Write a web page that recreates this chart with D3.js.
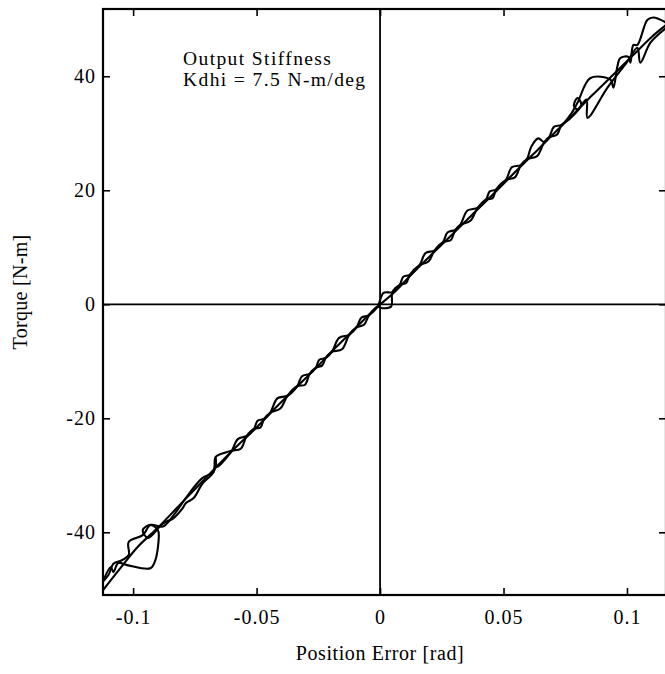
<!DOCTYPE html>
<html>
<head>
<meta charset="utf-8">
<script src="https://cdn.jsdelivr.net/npm/d3@7"></script>
<style>
  html, body { margin: 0; padding: 0; background: #fff; }
  svg { display: block; }
</style>
</head>
<body>
<svg id="chart" width="665" height="674"></svg>
<script>
// ---------- data ----------
const xTicks = [-0.1, -0.05, 0, 0.05, 0.1];
const xTickLabels = ["-0.1", "-0.05", "0", "0.05", "0.1"];
const yTicks = [40, 20, 0, -20, -40];
const yTickLabels = ["40", "20", "0", "-20", "-40"];

const xLabel = "Position Error [rad]";
const yLabel = "Torque [N-m]";
const noteLines = ["Output Stiffness", "Kdhi = 7.5 N-m/deg"];

// trace going up (loading): [position error rad, torque N-m]
const traceUp = [
  [-0.113, -49.8], [-0.112, -48.4], [-0.109, -46.1], [-0.108, -47.0], [-0.106, -45.4],
  [-0.102, -45.8], [-0.093, -46.3], [-0.091, -44.9], [-0.0896, -40.5], [-0.0900, -39.6],
  [-0.0929, -38.7], [-0.0961, -39.6], [-0.094, -41.0], [-0.088, -38.5], [-0.0836, -37.5],
  [-0.080, -35.8], [-0.0787, -34.9], [-0.0755, -34.0], [-0.072, -31.5], [-0.0674, -29.4],
  [-0.0666, -26.8], [-0.066, -28.5], [-0.062, -26.8],
  [-0.060, -25.68], [-0.0576, -23.65], [-0.054, -23.11],
  [-0.051, -21.83], [-0.0496, -20.43], [-0.047, -20.12],
  [-0.0445, -19.05], [-0.0416, -16.50], [-0.0375, -16.05],
  [-0.0335, -14.34], [-0.0316, -12.62], [-0.0285, -12.20],
  [-0.026, -11.13], [-0.0246, -9.73], [-0.022, -9.42],
  [-0.0195, -8.35], [-0.0166, -5.90], [-0.0125, -5.35],
  [-0.0095, -4.07], [-0.0076, -2.35], [-0.0045, -1.93],
  [-0.001, -0.43], [0.0014, 2.0], [0.005, 2.14],
  [0.008, 3.42], [0.0094, 4.82], [0.012, 5.14],
  [0.016, 6.85], [0.0184, 8.98], [0.022, 9.42],
  [0.0255, 10.91], [0.0274, 12.63], [0.0305, 13.05],
  [0.0325, 13.91], [0.0354, 16.45], [0.0395, 16.91],
  [0.043, 18.40], [0.0444, 19.80], [0.047, 20.12],
  [0.051, 21.83], [0.0534, 24.06], [0.057, 24.40],
  [0.0595, 25.47], [0.0612, 27.6], [0.064, 29.1], [0.0665, 28.46],
  [0.0685, 29.32], [0.0704, 31.13], [0.0735, 31.46],
  [0.077, 33.2], [0.0799, 35.3], [0.0852, 39.7], [0.0933, 39.4],
  [0.0945, 38.0], [0.0961, 41.7], [0.0973, 43.2], [0.1006, 43.4], [0.1014, 42.4], [0.1026, 45.5],
  [0.1042, 45.5], [0.1083, 49.9], [0.1107, 50.3], [0.1159, 49.4]
];

// trace coming back down (unloading)
const traceDown = [
  [0.1159, 48.5], [0.1095, 45.9], [0.1054, 42.4], [0.1042, 45.0], [0.100, 42.5],
  [0.0921, 38.0], [0.0840, 32.7], [0.0836, 35.9], [0.0799, 34.2], [0.0785, 34.8],
  [0.0799, 36.2], [0.0815, 35.0], [0.077, 32.6],
  [0.0735, 31.46], [0.0716, 29.74], [0.0685, 29.32],
  [0.0665, 28.46], [0.0636, 26.0], [0.0595, 25.47],
  [0.057, 24.40], [0.0546, 22.27], [0.051, 21.83],
  [0.047, 20.12], [0.0456, 18.62], [0.043, 18.40],
  [0.0395, 16.91], [0.0366, 14.66], [0.0325, 13.91],
  [0.0305, 13.05], [0.0286, 11.24], [0.0255, 10.91],
  [0.022, 9.42], [0.0196, 7.49], [0.016, 6.85],
  [0.012, 5.14], [0.0106, 3.74], [0.008, 3.42],
  [0.005, 2.14], [0.0045, -0.4], [0.001, -0.7], [-0.001, -0.43],
  [-0.0045, -1.93], [-0.0064, -3.54], [-0.0095, -4.07],
  [-0.0125, -5.35], [-0.0154, -7.89], [-0.0195, -8.35],
  [-0.022, -9.42], [-0.0234, -10.72], [-0.026, -11.13],
  [-0.0285, -12.20], [-0.0304, -14.11], [-0.0335, -14.34],
  [-0.0375, -16.05], [-0.0404, -18.29], [-0.0445, -19.05],
  [-0.047, -20.12], [-0.0484, -21.62], [-0.051, -21.83],
  [-0.054, -23.11], [-0.0564, -25.34], [-0.060, -25.68],
  [-0.0625, -26.0], [-0.0666, -26.8], [-0.0674, -29.4],
  [-0.072, -30.5], [-0.0787, -34.0], [-0.0836, -37.0], [-0.088, -39.0], [-0.0929, -38.7],
  [-0.0961, -40.5], [-0.1018, -41.7], [-0.1018, -44.0], [-0.105, -45.0], [-0.108, -45.5],
  [-0.110, -47.5], [-0.113, -49.0]
];

// near-straight middle trace
const traceMid = [
  [-0.113, -50.6], [-0.105, -46.2], [-0.098, -42.5], [-0.090, -39.2], [-0.082, -35.6],
  [-0.074, -32.0], [-0.066, -28.4], [-0.058, -24.9], [-0.050, -21.6], [-0.042, -18.0],
  [-0.034, -14.6], [-0.026, -11.2], [-0.018, -7.6], [-0.010, -4.2], [-0.002, -0.8],
  [0.006, 2.2], [0.014, 5.8], [0.022, 9.2], [0.030, 12.6], [0.038, 16.0],
  [0.046, 19.4], [0.054, 22.9], [0.062, 26.3], [0.070, 29.8], [0.078, 33.2],
  [0.086, 36.7], [0.094, 40.1], [0.102, 43.5], [0.110, 46.9], [0.1159, 49.0]
];

const traces = [traceMid, traceUp, traceDown];

// ---------- layout ----------
const svg = d3.select("#chart");
const pL = 103, pR = 666, pT = 9, pB = 595;
const FONT = "'Liberation Serif', 'Times New Roman', serif";

const x = d3.scaleLinear().domain([-0.1122, 0.1158]).range([pL, pR]);
const y = d3.scaleLinear().domain([-51, 51.8]).range([pB, pT]);

svg.append("defs").append("clipPath").attr("id", "clip")
  .append("rect").attr("x", pL).attr("y", pT)
  .attr("width", pR - pL).attr("height", pB - pT);

// zero lines
svg.append("line").attr("x1", pL).attr("x2", pR)
  .attr("y1", y(0)).attr("y2", y(0))
  .attr("stroke", "#000").attr("stroke-width", 1.8);
svg.append("line").attr("x1", x(0)).attr("x2", x(0))
  .attr("y1", pT).attr("y2", pB)
  .attr("stroke", "#000").attr("stroke-width", 1.8);

// traces
const line = d3.line().x(d => x(d[0])).y(d => y(d[1]))
  .curve(d3.curveCatmullRom.alpha(0.5));
svg.append("g").attr("clip-path", "url(#clip)")
  .selectAll("path").data(traces).join("path")
  .attr("d", line)
  .attr("fill", "none").attr("stroke", "#000")
  .attr("stroke-width", 2.1).attr("stroke-linejoin", "round");

// axes (ticks inward)
function styleAxis(g) {
  g.select(".domain").remove();
  g.selectAll(".tick line").attr("stroke", "#000").attr("stroke-width", 1.6);
  g.selectAll("text").attr("font-family", FONT).attr("font-size", 20)
    .attr("letter-spacing", "1px").attr("fill", "#000");
}
const fmtX = (d, i) => xTickLabels[i];
const fmtY = (d, i) => yTickLabels[i];

const gB = svg.append("g").attr("transform", `translate(0,${pB})`)
  .call(d3.axisBottom(x).tickValues(xTicks).tickFormat(fmtX).tickSize(-7).tickPadding(15));
styleAxis(gB);
gB.selectAll("text").attr("dy", "0.71em");

const gT = svg.append("g").attr("transform", `translate(0,${pT})`)
  .call(d3.axisTop(x).tickValues(xTicks).tickFormat("").tickSize(-7));
styleAxis(gT);

const gL = svg.append("g").attr("transform", `translate(${pL},0)`)
  .call(d3.axisLeft(y).tickValues(yTicks).tickFormat(fmtY).tickSize(-7).tickPadding(7));
styleAxis(gL);

const gR = svg.append("g").attr("transform", `translate(${pR},0)`)
  .call(d3.axisRight(y).tickValues(yTicks).tickFormat("").tickSize(-7));
styleAxis(gR);

// frame
svg.append("rect").attr("x", pL).attr("y", pT)
  .attr("width", pR - pL).attr("height", pB - pT)
  .attr("fill", "none").attr("stroke", "#000").attr("stroke-width", 2.2);

// axis titles
svg.append("text").attr("x", 380).attr("y", 660)
  .attr("text-anchor", "middle").attr("font-family", FONT).attr("font-size", 20)
  .attr("letter-spacing", "0.6px").text(xLabel);

svg.append("text").attr("transform", "translate(27,292) rotate(-90)")
  .attr("text-anchor", "middle").attr("font-family", FONT).attr("font-size", 20)
  .attr("letter-spacing", "0.3px").text(yLabel);

// annotation
svg.append("g").selectAll("text").data(noteLines).join("text")
  .attr("x", 183).attr("y", (d, i) => 65 + i * 21)
  .attr("font-family", FONT).attr("font-size", 19.5)
  .attr("letter-spacing", "1.4px").text(d => d);
</script>
</body>
</html>
